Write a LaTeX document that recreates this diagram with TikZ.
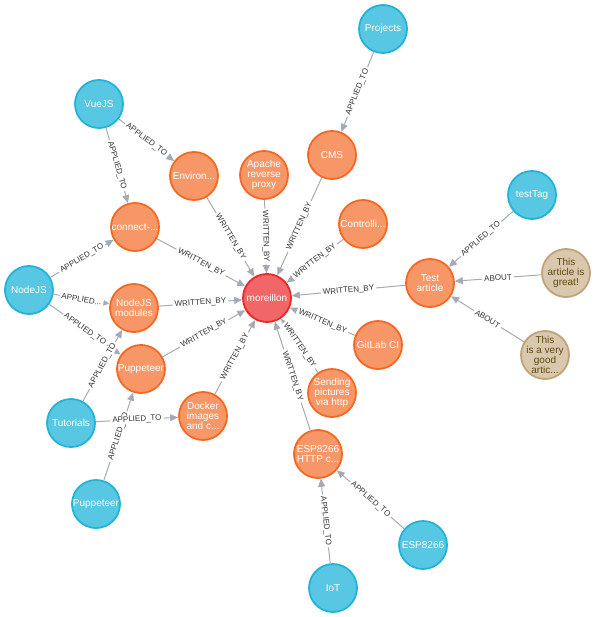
\documentclass[tikz,border=0pt]{standalone}
\usepackage{fontspec}
\setmainfont{Liberation Sans}
\usepackage{xcolor}
\usepackage{tikz}
\usetikzlibrary{arrows.meta,positioning}
\definecolor{tagfill}{HTML}{57C7E3}
\definecolor{tagline}{HTML}{23B3D7}
\definecolor{postfill}{HTML}{F79767}
\definecolor{postline}{HTML}{F36924}
\definecolor{authfill}{HTML}{F16667}
\definecolor{authline}{HTML}{EB2728}
\definecolor{commfill}{HTML}{D9C8AE}
\definecolor{commline}{HTML}{C0A378}
\definecolor{commtext}{HTML}{604A0E}
\definecolor{relgray}{HTML}{A5ABB6}
\definecolor{lblgray}{HTML}{333333}
\tikzset{
  gnode/.style  ={circle,line width=1.8pt,minimum size=48pt,inner sep=0pt,
                  align=center,text=white,font=\fontsize{10}{10}\selectfont},
  tag/.style    ={gnode,draw=tagline,fill=tagfill},
  post/.style   ={gnode,draw=postline,fill=postfill},
  author/.style ={gnode,draw=authline,fill=authfill},
  comment/.style={gnode,draw=commline,fill=commfill,text=commtext,inner sep=-2.5pt},
  rel/.style    ={-{Triangle[length=8pt,width=7pt]},line width=1pt,draw=relgray},
  lbl/.style    ={sloped,fill=white,inner xsep=2pt,inner ysep=0.5pt,text=lblgray,
                  font=\fontsize{8}{8}\selectfont}
}
\begin{document}
\begin{tikzpicture}[x=1pt,y=-1pt]
  \useasboundingbox (0,0) rectangle (595,617);
  % author
  \node[author] (moreillon) at (267,298) {moreillon};
  % posts
  \node[post] (cms)     at (332,155) {CMS};
  \node[post] (apache)  at (264,175) {Apache\\reverse\\proxy};
  \node[post] (environ) at (194,176) {Environ...};
  \node[post] (connect) at (135,227) {connect-...};
  \node[post] (controlli) at (363,224) {Controlli...};
  \node[post] (testart) at (430,283) {Test\\article};
  \node[post] (nodemod) at (134,308) {NodeJS\\modules};
  \node[post] (pupp)    at (141,369) {Puppeteer};
  \node[post] (gitlab)  at (378,345) {GitLab CI};
  \node[post] (sending) at (332,393) {Sending\\pictures\\via http};
  \node[post] (esphttp) at (318,454) {ESP8266\\HTTP c...};
  \node[post] (docker)  at (203,416) {Docker\\images\\and c...};
  % tags
  \node[tag] (projects)  at (383,29)  {Projects};
  \node[tag] (vuejs)     at (99,104)  {VueJS};
  \node[tag] (testtag)   at (532,195) {testTag};
  \node[tag] (nodejs)    at (29,290)  {NodeJS};
  \node[tag] (tutorials) at (71,423)  {Tutorials};
  \node[tag] (pupptag)   at (96,504)  {Puppeteer};
  \node[tag] (esptag)    at (423,545) {ESP8266};
  \node[tag] (iot)       at (333,588) {IoT};
  % comments
  \node[comment] (great)   at (566,273) {This\\article is\\great!};
  \node[comment] (goodart) at (545,355) {This\\is a very\\good\\artic...};

  % written by
  \draw[rel] (environ) -- node[lbl]{WRITTEN\_BY} (moreillon);
  \draw[rel] (apache) -- node[lbl]{WRITTEN\_BY} (moreillon);
  \draw[rel] (cms) -- node[lbl]{WRITTEN\_BY} (moreillon);
  \draw[rel] (controlli) -- node[lbl]{WRITTEN\_BY} (moreillon);
  \draw[rel] (connect) -- node[lbl]{WRITTEN\_BY} (moreillon);
  \draw[rel] (nodemod) -- node[lbl]{WRITTEN\_BY} (moreillon);
  \draw[rel] (pupp) -- node[lbl]{WRITTEN\_BY} (moreillon);
  \draw[rel] (docker) -- node[lbl]{WRITTEN\_BY} (moreillon);
  \draw[rel] (testart) -- node[lbl]{WRITTEN\_BY} (moreillon);
  \draw[rel] (gitlab) -- node[lbl]{WRITTEN\_BY} (moreillon);
  \draw[rel] (sending) -- node[lbl]{WRITTEN\_BY} (moreillon);
  \draw[rel] (esphttp) -- node[lbl]{WRITTEN\_BY} (moreillon);
  % applied to
  \draw[rel] (projects) -- node[lbl]{APPLIED\_TO} (cms);
  \draw[rel] (vuejs) -- node[lbl]{APPLIED\_TO} (environ);
  \draw[rel] (vuejs) -- node[lbl]{APPLIED\_TO} (connect);
  \draw[rel] (nodejs) -- node[lbl]{APPLIED\_TO} (connect);
  \draw[rel] (nodejs) -- node[lbl]{APPLIED...} (nodemod);
  \draw[rel] (nodejs) -- node[lbl]{APPLIED\_TO} (pupp);
  \draw[rel] (tutorials) -- node[lbl]{APPLIED\_TO} (nodemod);
  \draw[rel] (pupptag) -- node[lbl]{APPLIED\_TO} (pupp);
  \draw[rel] (tutorials) -- node[lbl]{APPLIED\_TO} (docker);
  \draw[rel] (testtag) -- node[lbl]{APPLIED\_TO} (testart);
  \draw[rel] (iot) -- node[lbl]{APPLIED\_TO} (esphttp);
  \draw[rel] (esptag) -- node[lbl]{APPLIED\_TO} (esphttp);
  % about
  \draw[rel] (great) -- node[lbl]{ABOUT} (testart);
  \draw[rel] (goodart) -- node[lbl]{ABOUT} (testart);
\end{tikzpicture}
\end{document}
